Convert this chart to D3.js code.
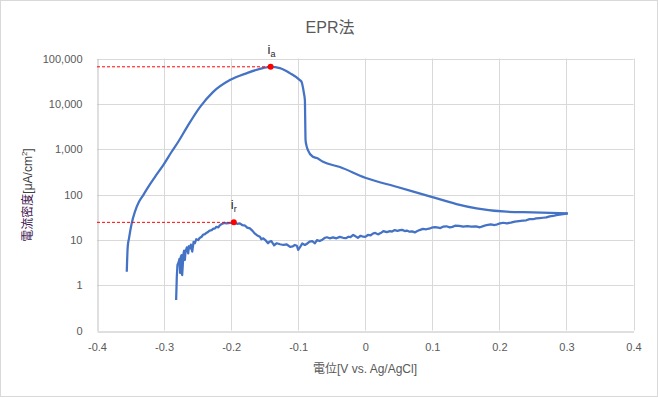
<!DOCTYPE html>
<html>
<head>
<meta charset="utf-8">
<script src="https://cdn.jsdelivr.net/npm/d3@7"></script>
<style>
  html, body { margin: 0; padding: 0; background: #fff; }
  svg { display: block; font-family: "Liberation Sans", "Noto Sans CJK JP", sans-serif; }
</style>
</head>
<body>
<div id="chart"></div>
<script>
// Anodic (forward) scan: potential [V] and current density [uA/cm2]
const fwdPotential = [-0.3556, -0.3542, -0.3523, -0.3483, -0.3434, -0.3374, -0.3310, -0.3235, -0.3135, -0.3012,
  -0.2887, -0.2788, -0.2658, -0.2465, -0.2271, -0.2018, -0.1764, -0.1526, -0.1411, -0.1273, -0.1124, -0.0975,
  -0.095, -0.093, -0.0915, -0.0900, -0.0896, -0.0890, -0.0878, -0.0855, -0.0781, -0.0721, -0.0630, -0.0378,
  0.0, 0.0466, 0.0988, 0.136, 0.1659, 0.2106, 0.2498, 0.302];
const fwdCurrent = [1.98, 7.0, 10.8, 23, 42, 69, 97, 148, 246, 446,
  877, 1456, 3070, 8470, 18150, 33400, 47600, 61400, 65600, 61400, 47600, 33400,
  30600, 23400, 17300, 12100, 5180, 1590, 1230, 955, 680, 637, 527, 403,
  234, 148, 89, 61.5, 49.5, 41.7, 40.4, 38.4];

// Reverse scan, read from 0.3 V back down
const revPotential = [0.302, 0.298, 0.295, 0.290, 0.285, 0.280, 0.275, 0.270, 0.265, 0.260, 0.255, 0.250, 0.245,
  0.240, 0.235, 0.229, 0.223, 0.217, 0.211, 0.206, 0.201, 0.197, 0.193, 0.187, 0.181, 0.176, 0.171, 0.165,
  0.158, 0.152, 0.146, 0.140, 0.134, 0.130, 0.126, 0.121, 0.116, 0.112, 0.109, 0.104, 0.099, 0.095, 0.091,
  0.086, 0.081, 0.077, 0.074, 0.070, 0.066, 0.062, 0.059, 0.055, 0.052, 0.048, 0.044, 0.040, 0.037, 0.032,
  0.027, 0.023, 0.019, 0.015, 0.012, 0.008, 0.004, 0.000, -0.003, -0.007, -0.011, -0.015, -0.018, -0.022,
  -0.025, -0.029, -0.033, -0.038, -0.043, -0.048, -0.053, -0.057, -0.060, -0.064, -0.068, -0.072, -0.075,
  -0.079, -0.083, -0.087, -0.090, -0.094, -0.097, -0.100, -0.102, -0.105, -0.108, -0.112, -0.117, -0.122,
  -0.127, -0.132, -0.136, -0.140, -0.143, -0.145, -0.149, -0.152, -0.155, -0.157, -0.161, -0.165, -0.168,
  -0.172, -0.176, -0.179, -0.183, -0.187, -0.191, -0.196, -0.201, -0.207, -0.210, -0.214, -0.217, -0.219,
  -0.222, -0.224, -0.227, -0.229, -0.232, -0.234, -0.237, -0.239, -0.242, -0.244, -0.247, -0.249, -0.252,
  -0.254, -0.256, -0.258, -0.260, -0.261, -0.263, -0.264, -0.266, -0.268, -0.269, -0.270, -0.271, -0.273,
  -0.274, -0.275, -0.276, -0.277, -0.278, -0.280, -0.281, -0.282];
const revCurrent = [38.4, 37.5, 37.1, 36.0, 35.2, 33.6, 33.0, 31.2, 30.7, 30.2, 29.8, 28.5, 28.7,
  27.0, 26.4, 25.8, 25.1, 24.0, 23.1, 23.8, 23.1, 22.0, 21.2, 21.9, 21.2, 20.0, 18.9, 19.9,
  19.5, 20.1, 19.5, 20.3, 20.5, 19.3, 18.9, 19.9, 19.5, 18.2, 18.5, 19.0, 18.5, 17.6, 17.1,
  17.4, 16.4, 15.4, 14.6, 15.4, 15.1, 16.0, 15.6, 16.6, 16.4, 15.8, 16.4, 15.2, 15.6, 14.8,
  15.6, 14.1, 13.2, 14.2, 13.9, 12.6, 12.8, 11.6, 11.7, 12.3, 11.1, 12.1, 12.8, 11.5,
  11.7, 10.9, 11.1, 11.6, 10.8, 11.3, 10.8, 11.4, 11.1, 10.1, 9.4, 9.9, 8.4,
  9.4, 9.1, 8.2, 7.7, 8.3, 7.0, 6.0, 7.4, 7.7, 7.2, 7.0, 7.9, 7.7,
  8.0, 8.4, 7.6, 9.4, 9.0, 8.4, 9.9, 10.8, 10.3, 11.7, 12.5, 13.9, 15.8,
  17.9, 18.6, 20.5, 21.0, 23.1, 22.6, 24.3, 23.6, 23.1, 23.6, 22.3, 20.8, 18.9,
  19.4, 17.9, 17.4, 16.4, 16.0, 15.1, 14.2, 13.4, 12.9, 11.7, 11.0, 9.9, 10.3,
  8.4, 9.0, 5.5, 7.8, 6.5, 7.2, 5.0, 6.8, 5.5, 3.6, 5.8, 5.0, 1.67,
  4.6, 4.2, 1.85, 3.8, 3.3, 2.8, 1.53, 0.47];

// Peak markers: i_a (activation) and i_r (reactivation)
const peakNames = ["a", "r"];
const peakPotential = [-0.1411, -0.196];
const peakCurrent = [65600, 24.3];

const xTicks = [-0.4, -0.3, -0.2, -0.1, 0, 0.1, 0.2, 0.3, 0.4];
const yTicks = [0.1, 1, 10, 100, 1000, 10000, 100000];

const width = 658;
const height = 398;
const margin = { top: 58.5, right: 24.5, bottom: 67.5, left: 97 };

const svg = d3.select("#chart").append("svg")
  .attr("width", width)
  .attr("height", height);

// Chart border
svg.append("rect")
  .attr("x", 0.5).attr("y", 0.5)
  .attr("width", width - 1).attr("height", height - 2)
  .attr("fill", "#fff")
  .attr("stroke", "#d9d9d9");

const x = d3.scaleLinear().domain([-0.4, 0.4]).range([margin.left, width - margin.right]);
const y = d3.scaleLog().domain([0.1, 100000]).range([height - margin.bottom, margin.top]);

const fmtX = d => d === 0 ? "0" : d3.format(".1f")(d).replace("\u2212", "-");
const fmtY = d => d < 1 ? "0" : d3.format(",")(d);

// Grid
svg.append("g")
  .selectAll("line")
  .data(xTicks.slice(1))
  .join("line")
  .attr("x1", d => Math.round(x(d)) + 0.5).attr("x2", d => Math.round(x(d)) + 0.5)
  .attr("y1", y(100000)).attr("y2", y(0.1))
  .attr("stroke", "#d9d9d9");

svg.append("g")
  .selectAll("line")
  .data(yTicks.slice(1))
  .join("line")
  .attr("x1", x(-0.4)).attr("x2", x(0.4))
  .attr("y1", d => Math.round(y(d)) + 0.5).attr("y2", d => Math.round(y(d)) + 0.5)
  .attr("stroke", "#d9d9d9");

// Axes
const xAxis = svg.append("g")
  .attr("transform", `translate(0,${Math.round(y(0.1)) + 0.5})`)
  .call(d3.axisBottom(x).tickValues(xTicks).tickFormat(fmtX).tickSize(0).tickPadding(12));
xAxis.select(".domain").attr("stroke", "#bfbfbf");

const yAxis = svg.append("g")
  .attr("transform", `translate(${Math.round(x(-0.4)) + 0.5},0)`)
  .call(d3.axisLeft(y).tickValues(yTicks).tickFormat(fmtY).tickSize(0).tickPadding(15));
yAxis.select(".domain").attr("stroke", "#bfbfbf");

svg.selectAll(".tick text")
  .attr("fill", "#595959")
  .attr("font-size", 11)
  .attr("font-family", "Liberation Sans, sans-serif");

// Title and axis titles
svg.append("text")
  .attr("x", 330).attr("y", 33)
  .attr("text-anchor", "middle")
  .attr("font-size", 16)
  .attr("fill", "#595959")
  .text("EPR法");

svg.append("text")
  .attr("x", 365).attr("y", 373)
  .attr("text-anchor", "middle")
  .attr("font-size", 12)
  .attr("fill", "#595959")
  .text("電位[V vs. Ag/AgCl]");

const yTitle = svg.append("text")
  .attr("transform", "translate(32,195) rotate(-90)")
  .attr("text-anchor", "middle")
  .attr("font-size", 12)
  .attr("fill", "#404040");
yTitle.append("tspan").attr("fill", "#3c1450").text("電流密度");
yTitle.append("tspan").text("[μA/cm");
yTitle.append("tspan").attr("font-size", 8).attr("dy", -5).text("2");
yTitle.append("tspan").attr("dy", 5).text("]");

// Curves
const fwd = fwdPotential.map((p, i) => [p, fwdCurrent[i]]);
const rev = revPotential.map((p, i) => [p, revCurrent[i]]);

svg.append("path")
  .datum(fwd)
  .attr("fill", "none")
  .attr("stroke", "#4472c4")
  .attr("stroke-width", 2.25)
  .attr("stroke-linejoin", "round")
  .attr("d", d3.line().x(d => x(d[0])).y(d => y(d[1])).curve(d3.curveMonotoneX));

svg.append("path")
  .datum(rev)
  .attr("fill", "none")
  .attr("stroke", "#4472c4")
  .attr("stroke-width", 2.25)
  .attr("stroke-linejoin", "round")
  .attr("d", d3.line().x(d => x(d[0])).y(d => y(d[1])));

// Peak guides and markers
const peaks = peakNames.map((n, i) => ({ name: n, p: peakPotential[i], c: peakCurrent[i] }));

svg.append("g")
  .selectAll("line")
  .data(peaks)
  .join("line")
  .attr("x1", x(-0.4)).attr("x2", d => x(d.p))
  .attr("y1", d => y(d.c)).attr("y2", d => y(d.c))
  .attr("stroke", "#ff0000")
  .attr("stroke-width", 1)
  .attr("stroke-dasharray", "3,2");

svg.append("g")
  .selectAll("circle")
  .data(peaks)
  .join("circle")
  .attr("cx", d => x(d.p)).attr("cy", d => y(d.c))
  .attr("r", 3)
  .attr("fill", "#ff0000");

const lbl = svg.append("g")
  .selectAll("text")
  .data(peaks)
  .join("text")
  .attr("x", d => x(d.p) - 3)
  .attr("y", d => y(d.c) - 13)
  .attr("font-size", 13)
  .attr("fill", "#262626");
lbl.append("tspan").text("i");
lbl.append("tspan").attr("font-size", 9).attr("dy", 3).text(d => d.name);
</script>
</body>
</html>
